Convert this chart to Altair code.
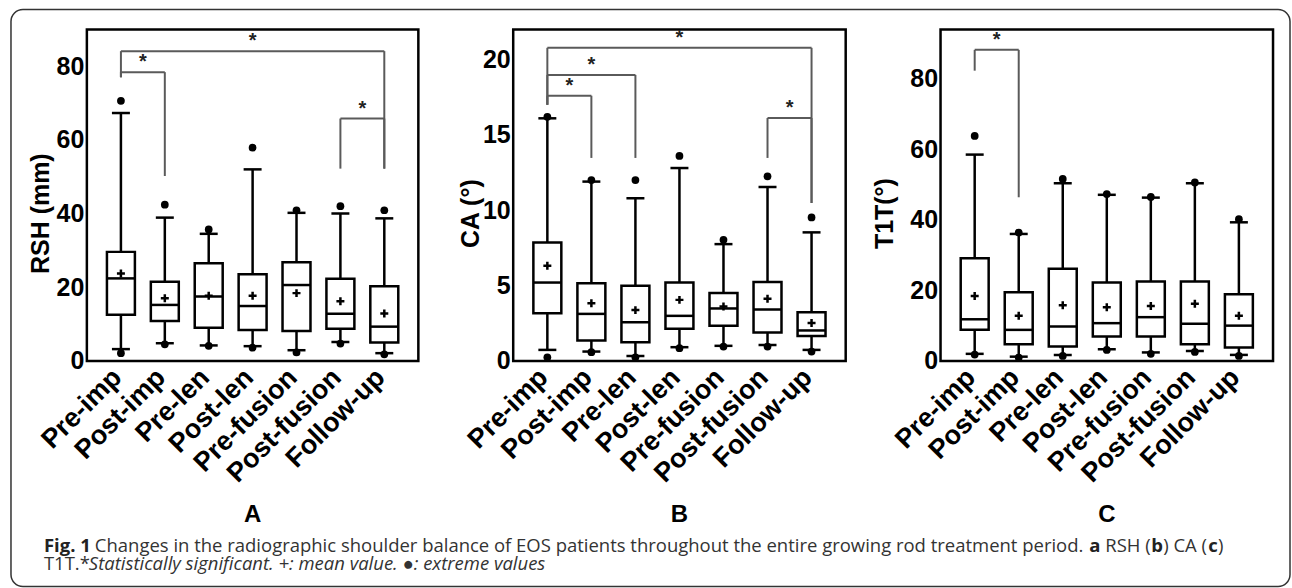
import altair as alt
import pandas as pd

categories = ["Pre-imp", "Post-imp", "Pre-len", "Post-len", "Pre-fusion", "Post-fusion", "Follow-up"]

# Panel A: RSH (mm)
rsh_q1 = [12.5, 10.8, 9.0, 8.4, 8.1, 8.7, 5.0]
rsh_median = [22.4, 15.2, 17.5, 14.9, 20.6, 12.8, 9.3]
rsh_q3 = [29.6, 21.5, 26.5, 23.5, 26.8, 22.3, 20.3]
rsh_mean = [23.7, 17.0, 17.7, 17.7, 18.4, 16.2, 12.9]
rsh_whisk_lo = [3.2, 4.8, 4.2, 4.0, 2.9, 5.1, 2.1]
rsh_whisk_hi = [67.3, 38.9, 34.5, 52.0, 40.2, 40.0, 38.7]
rsh_ext_lo = [2.1, 4.5, 4.1, 3.6, 2.3, 4.7, 1.8]
rsh_ext_hi = [70.6, 42.4, 35.7, 57.9, 40.9, 42.0, 40.9]
rsh_br_from = [0, 0, 5]
rsh_br_to = [1, 6, 6]
rsh_br_y = [78.4, 84.1, 65.8]
rsh_br_left_end = [77.0, 77.0, 52.2]
rsh_br_right_end = [50.2, 52.2, 52.2]

# Panel B: CA (deg)
ca_q1 = [3.17, 1.35, 1.24, 2.13, 2.33, 1.88, 1.66]
ca_median = [5.2, 3.12, 2.57, 2.99, 3.48, 3.41, 2.02]
ca_q3 = [7.86, 5.16, 4.98, 5.2, 4.5, 5.23, 3.23]
ca_mean = [6.31, 3.83, 3.37, 4.05, 3.61, 4.12, 2.52]
ca_whisk_lo = [0.73, 0.62, 0.33, 0.91, 1.0, 1.06, 0.73]
ca_whisk_hi = [16.1, 11.9, 10.8, 12.8, 7.75, 11.54, 8.53]
ca_ext_lo = [0.24, 0.58, 0.24, 0.84, 0.95, 0.95, 0.62]
ca_ext_hi = [16.2, 12.0, 12.0, 13.6, 8.04, 12.25, 9.52]
ca_br_from = [0, 0, 0, 5]
ca_br_to = [1, 2, 6, 6]
ca_br_y = [17.6, 18.98, 20.78, 16.12]
ca_br_left_end = [17.0, 17.0, 17.0, 13.47]
ca_br_right_end = [13.47, 13.47, 10.48, 10.48]

# Panel C: T1T (deg)
t1t_q1 = [8.8, 4.7, 4.07, 6.9, 6.9, 4.7, 3.8]
t1t_median = [11.8, 8.8, 9.74, 10.7, 12.4, 10.5, 10.0]
t1t_q3 = [29.1, 19.5, 26.1, 22.2, 22.5, 22.5, 18.9]
t1t_mean = [18.4, 12.8, 15.8, 15.2, 15.6, 16.2, 12.8]
t1t_whisk_lo = [2.0, 1.2, 1.7, 3.3, 2.4, 2.8, 1.7]
t1t_whisk_hi = [58.5, 36.0, 50.4, 47.1, 46.3, 50.4, 39.3]
t1t_ext_lo = [1.8, 0.95, 1.4, 3.1, 2.0, 2.55, 1.4]
t1t_ext_hi = [63.8, 36.4, 51.6, 47.3, 46.5, 50.6, 40.2]
t1t_br_from = [0]
t1t_br_to = [1]
t1t_br_y = [88.2]
t1t_br_left_end = [82.3]
t1t_br_right_end = [46.4]

panel_letters = ["A", "B", "C"]
# caption pieces: (text, bold, italic, x offset from panel A's left edge, line)
caption_pieces = [
    ("Fig. 1", True, False, -43, 1),
    ("Changes in the radiographic shoulder balance of EOS patients throughout the "
     "entire growing rod treatment period.", False, False, 8, 1),
    ("a", True, False, 1004, 1),
    ("RSH (", False, False, 1020, 1),
    ("b", True, False, 1066, 1),
    (") CA (", False, False, 1078, 1),
    ("c", True, False, 1123, 1),
    (")", False, False, 1133, 1),
    ("T1T.*", False, False, -43, 2),
    ("Statistically significant. +: mean value. \u25cf: extreme values", False, True, 2, 2),
]

FONT = "Liberation Sans"
CAP_FONT = "Open Sans"
CAP_SIZE = 18.5
label_expr = "[" + ",".join("'" + c + "'" for c in categories) + "][datum.value]"


def caption_layers():
    cap_base = alt.Chart(pd.DataFrame({"k": [0]}))
    layers = [cap_base.mark_rect(fill="transparent", stroke="#333333", strokeWidth=1.5,
                                 cornerRadius=12).encode(
        x=alt.value(-76), x2=alt.value(1205), y=alt.value(-20), y2=alt.value(558))]
    for text, bold, italic, xo, line in caption_pieces:
        kw = dict(align="left", baseline="alphabetic", font=CAP_FONT, fontSize=CAP_SIZE,
                  color="#222222" if bold else "#333333")
        if bold:
            kw["fontWeight"] = "bold"
        if italic:
            kw["fontStyle"] = "italic"
        layers.append(cap_base.mark_text(**kw).encode(
            x=alt.value(xo), y=alt.value(523 if line == 1 else 541), text=alt.value(text)))
    return layers


def panel(stats, brackets, ymax, yticks, ytitle, title_x, letter, width, extra=()):
    q1, med, q3, mean, wlo, whi, elo, ehi = stats
    bf, bt, by, bl, br = brackets
    df = pd.DataFrame({"idx": list(range(len(categories))), "cat": categories,
                       "q1": q1, "med": med, "q3": q3, "mean": mean,
                       "wlo": wlo, "whi": whi, "elo": elo, "ehi": ehi})
    seg = pd.DataFrame({"xa": bf + bf + bt, "xb": bt + bf + bt,
                        "ya": by + by + by, "yb": by + bl + br})
    star = pd.DataFrame({"f": bf, "t": bt, "y": by})

    xs = alt.Scale(domain=[-0.662, 6.662], nice=False, zero=False)
    xaxis = alt.Axis(values=list(range(len(categories))), labelExpr=label_expr,
                     labelAngle=-45, labelAlign="right", labelBaseline="middle",
                     labelPadding=12, labelOffset=-4, labelOverlap=False,
                     grid=False, ticks=False, tickSize=0, domain=False,
                     labelFont=FONT, labelFontSize=27,
                     labelFontWeight="bold", labelColor="black")
    ys = alt.Scale(domain=[0, ymax], nice=False, zero=True)
    yaxis = alt.Axis(values=yticks, grid=False, ticks=False, tickSize=0, domain=False,
                     labelFont=FONT, labelFontSize=25, labelFontWeight="bold",
                     labelColor="black", labelPadding=3, labelOverlap=False,
                     titleFont=FONT, titleFontSize=25, titleFontWeight="bold",
                     titleColor="black", titleAngle=-90, titleAlign="center",
                     titleBaseline="middle", titleX=title_x, titleY=184)

    def X(f):
        return alt.X(f, type="quantitative", scale=xs, axis=xaxis, title=None)

    def Y(f):
        return alt.Y(f, type="quantitative", scale=ys, axis=yaxis, title=ytitle)

    one = alt.Chart(pd.DataFrame({"k": [0]}))
    base = alt.Chart(df)
    frame = one.mark_rect(fill="transparent", stroke="black", strokeWidth=2.5).encode(
        x=alt.value(0), x2=alt.value(width), y=alt.value(0), y2=alt.value(332))
    brk = alt.Chart(seg).mark_rule(color="#5a5a5a", strokeWidth=2).encode(
        x=X("xa"), x2="xb", y=Y("ya"), y2="yb")
    stars = alt.Chart(star).transform_calculate(mid="(datum.f + datum.t) / 2").mark_text(
        text="*", font=FONT, fontSize=20, fontWeight="bold", color="#222222",
        baseline="alphabetic", dy=-4).encode(x=X("mid:Q"), y=Y("y"))
    w_hi = base.mark_rule(color="black", strokeWidth=2.5).encode(x=X("idx"), y=Y("q3"), y2="whi")
    w_lo = base.mark_rule(color="black", strokeWidth=2.5).encode(x=X("idx"), y=Y("wlo"), y2="q1")
    cap_hi = base.mark_tick(orient="horizontal", size=18, thickness=2.5, color="black",
                            opacity=1).encode(x=X("idx"), y=Y("whi"))
    cap_lo = base.mark_tick(orient="horizontal", size=18, thickness=2.5, color="black",
                            opacity=1).encode(x=X("idx"), y=Y("wlo"))
    box = base.mark_bar(size=28, fill="white", stroke="black", strokeWidth=2.5).encode(
        x=X("idx"), y=Y("q1"), y2="q3")
    median = base.mark_tick(orient="horizontal", size=28, thickness=2.5, color="black",
                            opacity=1).encode(x=X("idx"), y=Y("med"))
    mean_pt = base.mark_point(shape="M-1,0L1,0M0,-1L0,1", size=64, strokeWidth=2.5,
                              color="black", filled=False, opacity=1).encode(
        x=X("idx"), y=Y("mean"))
    dot_hi = base.mark_circle(size=60, color="black", opacity=1).encode(x=X("idx"), y=Y("ehi"))
    dot_lo = base.mark_circle(size=60, color="black", opacity=1).encode(x=X("idx"), y=Y("elo"))
    letter_txt = one.mark_text(
        font=FONT, fontSize=24, fontWeight="bold", color="black",
        align="center", baseline="middle").encode(
        x=alt.value(width / 2), y=alt.value(486), text=alt.value(letter))

    return alt.layer(frame, brk, w_hi, w_lo, cap_hi, cap_lo, box, median, mean_pt,
                     dot_hi, dot_lo, stars, letter_txt, *extra).properties(
        width=width, height=332)


pA = panel((rsh_q1, rsh_median, rsh_q3, rsh_mean, rsh_whisk_lo, rsh_whisk_hi, rsh_ext_lo, rsh_ext_hi),
           (rsh_br_from, rsh_br_to, rsh_br_y, rsh_br_left_end, rsh_br_right_end),
           90, [0, 20, 40, 60, 80], "RSH (mm)", -46, panel_letters[0], 332, extra=caption_layers())
pB = panel((ca_q1, ca_median, ca_q3, ca_mean, ca_whisk_lo, ca_whisk_hi, ca_ext_lo, ca_ext_hi),
           (ca_br_from, ca_br_to, ca_br_y, ca_br_left_end, ca_br_right_end),
           22, [0, 5, 10, 15, 20], "CA (°)", -43, panel_letters[1], 333)
pC = panel((t1t_q1, t1t_median, t1t_q3, t1t_mean, t1t_whisk_lo, t1t_whisk_hi, t1t_ext_lo, t1t_ext_hi),
           (t1t_br_from, t1t_br_to, t1t_br_y, t1t_br_left_end, t1t_br_right_end),
           94, [0, 20, 40, 60, 80], "T1T(°)", -56, panel_letters[2], 333)

chart = alt.hconcat(pA, pB, pC, spacing=95, bounds="flush").properties(
    padding={"left": 9, "top": 7, "right": 0, "bottom": 0}, background="white"
).configure_view(stroke="transparent")

chart.save("out.html", embed_options={"renderer": "svg", "actions": False})
